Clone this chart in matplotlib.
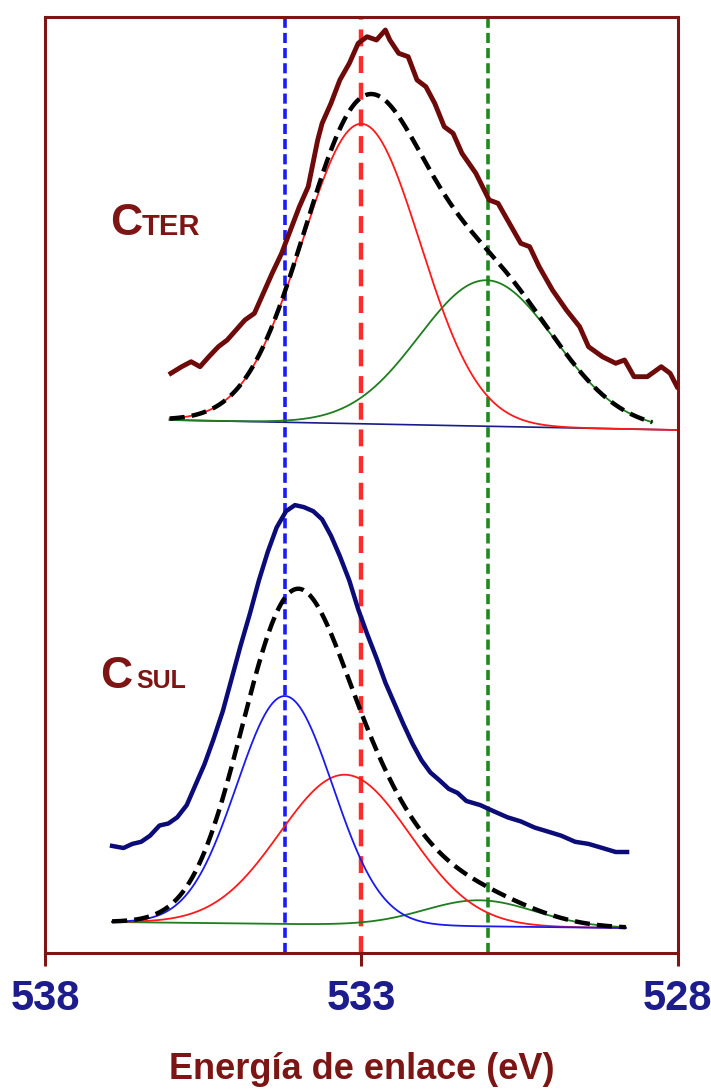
import numpy as np
import matplotlib
matplotlib.use("Agg")
import matplotlib.pyplot as plt

plt.rcParams['font.family'] = ['Liberation Sans', 'DejaVu Sans']

# ---- measured raw spectra (binding energy eV, intensity a.u.) ----
ter_raw_e = [536.01, 535.84, 535.69, 535.55, 535.41, 535.26, 535.12, 534.98, 534.84, 534.69,
             534.55, 534.41, 534.26, 534.12, 533.98, 533.84, 533.69, 533.62, 533.48, 533.34,
             533.19, 533.05, 532.91, 532.76, 532.62, 532.55, 532.41, 532.26, 532.12, 531.98,
             531.84, 531.69, 531.55, 531.41, 531.19, 530.98, 530.84, 530.69, 530.48, 530.34,
             530.19, 529.98, 529.76, 529.55, 529.41, 529.19, 528.98, 528.84, 528.69, 528.48,
             528.26, 528.12, 528.01]
ter_raw_i = [576.7, 583.3, 588.3, 583.3, 593.3, 603.3, 610.0, 620.0, 630.0, 636.7,
             656.7, 676.7, 696.7, 720.0, 743.3, 763.3, 810.0, 826.7, 846.7, 870.0,
             886.7, 906.7, 913.3, 910.0, 920.0, 910.0, 896.7, 893.3, 870.0, 863.3,
             846.7, 823.3, 816.7, 796.7, 776.7, 750.0, 746.7, 730.0, 706.7, 703.3,
             683.3, 660.0, 640.0, 623.3, 603.3, 593.3, 586.7, 590.0, 573.3, 573.3,
             583.3, 576.7, 563.3]

sul_raw_e = [536.94, 536.76, 536.62, 536.48, 536.34, 536.19, 536.05, 535.91, 535.76, 535.62,
             535.48, 535.34, 535.19, 535.05, 534.91, 534.76, 534.62, 534.48, 534.34, 534.19,
             534.05, 533.91, 533.76, 533.62, 533.48, 533.34, 533.19, 533.05, 532.91, 532.76,
             532.62, 532.48, 532.34, 532.19, 532.05, 531.91, 531.76, 531.62, 531.48, 531.34,
             531.12, 530.91, 530.69, 530.48, 530.26, 530.05, 529.84, 529.62, 529.41, 529.19,
             528.98, 528.80]
sul_raw_i = [104.1, 102.0, 106.1, 108.2, 114.3, 124.5, 126.5, 132.7, 144.9, 165.3,
             185.7, 210.2, 238.8, 271.4, 304.1, 336.7, 369.4, 398.0, 422.4, 438.8,
             444.9, 442.9, 438.8, 430.6, 414.3, 393.9, 369.4, 340.8, 316.3, 291.8,
             267.3, 246.9, 226.5, 206.1, 189.8, 177.6, 169.4, 161.2, 157.1, 149.0,
             144.9, 138.8, 132.7, 128.6, 122.4, 118.4, 114.3, 108.2, 106.1, 102.0,
             98.0, 98.0]

# ---- fitted components: (centre eV, height, sigma eV) ----
ter_range = [536.03, 528.0]
ter_base = [530.0, 520.0]
ter_red = [533.0, 300.0, 0.93]
ter_green = [531.02, 146.0, 1.07]
ter_env_end = 528.4

sul_range = [536.94, 528.82]
sul_base = [28.0, 22.0]
sul_blue = [534.21, 228.0, 0.76]
sul_red = [533.26, 150.0, 1.03]
sul_green = [531.13, 26.0, 0.87]

# reference positions of the three components
ref_lines = [534.21, 533.0, 531.0]

maroon = '#7d1515'
navy = '#1c1c8c'
c_red = '#ff1a1a'
c_blue = '#1a1aee'
c_green = '#1e7d1e'


def peak(e, p):
    c, a, s = p
    return a * np.exp(-0.5 * ((e - c) / s) ** 2)


def baseline(e, rng, b):
    return b[0] + (b[1] - b[0]) * (rng[0] - e) / (rng[0] - rng[1])


fig = plt.figure(figsize=(7.11, 10.9), dpi=100)
ax = fig.add_axes([45 / 711, 1 - 952.7 / 1090, 632.7 / 711, 935.7 / 1090])

# vertical reference lines
ax.axvline(ref_lines[0], color='#1a1aff', lw=2.6, dashes=(2.8, 1.4), zorder=1)
ax.axvline(ref_lines[1], color='#ff2a2a', lw=3.2, dashes=(3.8, 2.2), zorder=1)
ax.axvline(ref_lines[2], color='#1e8a1e', lw=2.6, dashes=(2.8, 1.4), zorder=1)

# ---- upper spectrum (C TER) ----
e = np.linspace(ter_range[0], ter_range[1], 500)
b = baseline(e, ter_range, ter_base)
red = b + peak(e, ter_red)
green = b + peak(e, ter_green)
env = b + peak(e, ter_red) + peak(e, ter_green)
m = e >= ter_env_end
ax.plot(e, b, color='#1a1a8a', lw=1.2, zorder=2)
ax.plot(e[m], green[m], color=c_green, lw=1.3, zorder=2)
ax.plot(e, red, color=c_red, lw=1.3, zorder=2)
ax.plot(e[m], env[m], color='black', lw=3.2, dashes=(3.4, 1.6), zorder=3)
ax.plot(ter_raw_e, ter_raw_i, color='#6e0a0a', lw=3.5, zorder=4, solid_joinstyle='round')

# ---- lower spectrum (C SUL) ----
e = np.linspace(sul_range[0], sul_range[1], 500)
b = baseline(e, sul_range, sul_base)
ax.plot(e, b + peak(e, sul_green), color=c_green, lw=1.3, zorder=2)
ax.plot(e, b + peak(e, sul_red), color=c_red, lw=1.3, zorder=2)
ax.plot(e, b + peak(e, sul_blue), color=c_blue, lw=1.3, zorder=2)
env = b + peak(e, sul_blue) + peak(e, sul_red) + peak(e, sul_green)
ax.plot(e, env, color='black', lw=3.2, dashes=(3.4, 1.6), zorder=3)
ax.plot(sul_raw_e, sul_raw_i, color='#0c0c78', lw=3.2, zorder=4, solid_joinstyle='round')

# labels
ax.text(536.97, 715, 'C', fontsize=32, fontweight='bold', color=maroon, ha='left', va='baseline')
ax.text(536.47, 715, 'TER', fontsize=21, fontweight='bold', color=maroon, ha='left', va='baseline')
ax.text(537.13, 262, 'C', fontsize=32, fontweight='bold', color=maroon, ha='left', va='baseline')
ax.text(536.56, 262, 'SUL', fontsize=18, fontweight='bold', color=maroon, ha='left', va='baseline')

ax.set_xlim(538, 528)
ax.set_ylim(-2.7, 933)
ax.set_xticks([538, 533, 528])
ax.set_xticklabels(['538', '533', '528'])
ax.set_yticks([])
ax.tick_params(axis='x', direction='out', length=9, width=2.2, color=maroon,
               labelcolor=navy, labelsize=30, pad=10)
for lbl in ax.get_xticklabels():
    lbl.set_fontweight('bold')
for sp in ax.spines.values():
    sp.set_color(maroon)
    sp.set_linewidth(2.2)

ax.set_xlabel('Energía de enlace (eV)', fontsize=26, fontweight='bold', color=maroon, labelpad=24)

fig.savefig('out.png', dpi=100)
